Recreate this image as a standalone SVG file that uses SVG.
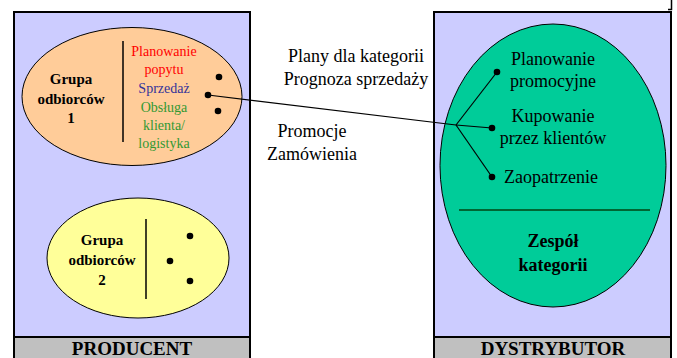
<svg xmlns="http://www.w3.org/2000/svg" width="677" height="358" viewBox="0 0 677 358">
<defs>
<style>
.panel{fill:#CCCCFF;stroke:#000;stroke-width:2}
.foot{fill:#C0C0C0;stroke:#000;stroke-width:2}
.ft{font-family:"Liberation Serif",serif;font-weight:bold;font-size:19px;text-anchor:middle;fill:#000}
.bold{font-family:"Liberation Serif",serif;font-weight:bold;font-size:15px;text-anchor:middle;fill:#000}
.sm{font-family:"Liberation Serif",serif;font-size:14px;text-anchor:middle}
.big{font-family:"Liberation Serif",serif;font-size:18px;text-anchor:middle;fill:#000}
.bigb{font-family:"Liberation Serif",serif;font-size:18px;font-weight:bold;text-anchor:middle;fill:#000}
.ell{stroke:#000;stroke-width:1}
.dot{fill:#000}
.conn{stroke:#000;stroke-width:1.2;fill:none}
</style>
</defs>
<rect x="0" y="0" width="677" height="358" fill="#fff"/>
<path d="M668,9.5 H671.5 V0" fill="none" stroke="#000" stroke-width="1.5"/>

<g id="producent">
<rect class="panel" x="14" y="12" width="236" height="350"/>
<rect class="foot" x="14" y="337" width="236" height="25"/>
<text class="ft" x="132" y="355">PRODUCENT</text>
</g>

<g id="dystrybutor">
<rect class="panel" x="434" y="12" width="237" height="350"/>
<rect class="foot" x="434" y="337" width="237" height="25"/>
<text class="ft" x="553" y="355">DYSTRYBUTOR</text>
</g>

<g id="grupa1">
<ellipse class="ell" cx="132" cy="96.5" rx="110" ry="69" fill="#FFCC99"/>
<line x1="123" y1="41" x2="123" y2="142" stroke="#000" stroke-width="1.5"/>
<text class="bold"><tspan x="71" y="84">Grupa</tspan><tspan x="71" y="104">odbiorców</tspan><tspan x="71" y="123">1</tspan></text>
<text class="sm"><tspan x="164" y="56" fill="#FF0000">Planowanie</tspan><tspan x="164" y="74" fill="#FF0000">popytu</tspan><tspan x="164" y="93" fill="#333399">Sprzedaż</tspan><tspan x="164" y="112" fill="#339933">Obsługa</tspan><tspan x="164" y="130" fill="#339933">klienta/</tspan><tspan x="164" y="148" fill="#339933">logistyka</tspan></text>
<circle class="dot" cx="219" cy="77" r="3.3"/>
<circle class="dot" cx="208" cy="95" r="3.3"/>
<circle class="dot" cx="218" cy="111" r="3.3"/>
</g>

<g id="grupa2">
<ellipse class="ell" cx="138" cy="258" rx="91" ry="60" fill="#FFFF99"/>
<line x1="146" y1="219" x2="146" y2="299" stroke="#000" stroke-width="1.5"/>
<text class="bold"><tspan x="102" y="245">Grupa</tspan><tspan x="102" y="265">odbiorców</tspan><tspan x="102" y="285">2</tspan></text>
<circle class="dot" cx="190" cy="236" r="3.3"/>
<circle class="dot" cx="170" cy="261" r="3.3"/>
<circle class="dot" cx="190" cy="281" r="3.3"/>
</g>

<g id="zespol">
<ellipse class="ell" cx="553" cy="165.5" rx="113" ry="141.5" fill="#00CC99"/>
<line x1="459" y1="210" x2="650" y2="210" stroke="#006633" stroke-width="2"/>
<text class="big"><tspan x="553" y="65">Planowanie</tspan><tspan x="553" y="87">promocyjne</tspan><tspan x="553" y="122">Kupowanie</tspan><tspan x="553" y="144">przez klientów</tspan><tspan x="551" y="183">Zaopatrzenie</tspan></text>
<text class="bigb"><tspan x="553" y="247">Zespół</tspan><tspan x="553" y="271">kategorii</tspan></text>
<circle class="dot" cx="497" cy="72" r="3.3"/>
<circle class="dot" cx="492" cy="128" r="3.3"/>
<circle class="dot" cx="492" cy="177" r="3.3"/>
</g>

<g id="flows">
<text class="big"><tspan x="356" y="62">Plany dla kategorii</tspan><tspan x="356" y="85">Prognoza sprzedaży</tspan><tspan x="312" y="137">Promocje</tspan><tspan x="312" y="160">Zamówienia</tspan></text>
</g>

<g id="connectors">
<path class="conn" d="M208,95 L456,125"/>
<path class="conn" d="M456,125 L497,72"/>
<path class="conn" d="M456,125 L492,128"/>
<path class="conn" d="M456,125 L492,177"/>
</g>
</svg>
